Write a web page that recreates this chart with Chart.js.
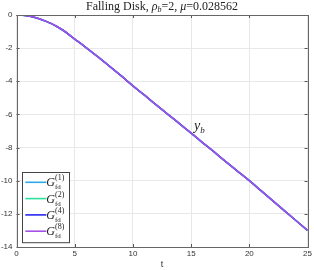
<!DOCTYPE html>
<html>
<head>
<meta charset="utf-8">
<script src="https://cdn.jsdelivr.net/npm/chart.js@4/dist/chart.umd.min.js"></script>
<style>
  body { margin: 0; background: #fff; }
  #wrap { width: 314px; height: 270px; }
</style>
</head>
<body>
<div id="wrap"><canvas id="diskChart" width="314" height="270"></canvas></div>
<script>
// time samples and vertical body position y_b
const tValues = [0, 0.5, 1, 1.5, 2, 2.5, 3, 3.5, 4, 5, 6, 7, 8, 9, 10, 11, 12, 13, 14, 15, 16, 17, 18, 19, 20, 21, 22, 23, 24, 25];
const ybValues = [0, -0.015, -0.06, -0.135, -0.24, -0.37, -0.52, -0.71, -0.92, -1.45, -1.98, -2.53, -3.1, -3.68, -4.27, -4.84, -5.42, -5.99, -6.56, -7.13, -7.71, -8.28, -8.86, -9.43, -10.0, -10.6, -11.2, -11.8, -12.4, -13.0];
const seriesOrders = ['1', '2', '4', '8'];
const seriesColors = ['#2ea8e6', '#2ee0a0', '#2626f2', '#a451e6'];
const xTicks = [0, 5, 10, 15, 20, 25];
const yTicks = [0, -2, -4, -6, -8, -10, -12, -14];

const serif = '"Liberation Serif", "DejaVu Serif", serif';

// later series are drawn on top (lower order = drawn last in Chart.js)
const datasets = seriesOrders.map((ord, i) => ({
    label: 'G_fd^(' + ord + ')',
    data: tValues.map((t, k) => ({ x: t, y: ybValues[k] })),
    borderColor: seriesColors[i],
    borderWidth: 1.6,
    pointRadius: 0,
    fill: false,
    order: seriesOrders.length - 1 - i,
    cubicInterpolationMode: 'monotone'
}));

// draws text pieces one after the other, returns total width
function drawPieces(ctx, pieces, x, y, measureOnly) {
    let cx = x;
    pieces.forEach(p => {
        ctx.font = p.font;
        if (!measureOnly) ctx.fillText(p.text, cx, y + (p.dy || 0));
        cx += ctx.measureText(p.text).width;
    });
    return cx - x;
}

const decorations = {
    id: 'decorations',
    afterDraw(chart) {
        const ctx = chart.ctx;
        const area = chart.chartArea;
        const xs = chart.scales.x, ys = chart.scales.y;
        ctx.save();

        // inward ticks on all four sides
        ctx.strokeStyle = '#555';
        ctx.lineWidth = 1;
        ctx.beginPath();
        xTicks.forEach(v => {
            const px = Math.round(xs.getPixelForValue(v)) + 0.5;
            ctx.moveTo(px, area.bottom); ctx.lineTo(px, area.bottom - 3);
            ctx.moveTo(px, area.top); ctx.lineTo(px, area.top + 3);
        });
        yTicks.forEach(v => {
            const py = Math.round(ys.getPixelForValue(v)) + 0.5;
            ctx.moveTo(area.left, py); ctx.lineTo(area.left + 3, py);
            ctx.moveTo(area.right, py); ctx.lineTo(area.right - 3, py);
        });
        ctx.stroke();

        // box around the axes
        ctx.strokeStyle = '#666';
        ctx.strokeRect(Math.round(area.left) + 0.5, Math.round(area.top) + 0.5,
            Math.round(area.right - area.left), Math.round(area.bottom - area.top));

        // title
        ctx.fillStyle = '#222';
        ctx.textBaseline = 'alphabetic';
        ctx.textAlign = 'left';
        const reg = '12px ' + serif, it = 'italic 12px ' + serif, sm = 'italic 8px ' + serif;
        const title = [
            { text: 'Falling Disk, ', font: reg },
            { text: 'ρ', font: it },
            { text: 'b', font: sm, dy: 2 },
            { text: '=2, ', font: reg },
            { text: 'μ', font: it },
            { text: '=0.028562', font: reg }
        ];
        const tw = drawPieces(ctx, title, 0, 0, true);
        drawPieces(ctx, title, (area.left + area.right) / 2 - tw / 2, 10, false);

        // y_b annotation
        const ax = xs.getPixelForValue(15.25), ay = ys.getPixelForValue(-6.95);
        drawPieces(ctx, [
            { text: 'y', font: 'italic 14px ' + serif },
            { text: 'b', font: 'italic 9px ' + serif, dy: 3 }
        ], ax, ay, false);

        // legend box
        const bx = xs.getPixelForValue(0.5), bw = 47;
        const rowH = 16.3, by = area.bottom - 4.5 - rowH * seriesOrders.length - 5;
        const bh = rowH * seriesOrders.length + 5;
        ctx.fillStyle = '#fff';
        ctx.fillRect(Math.round(bx) + 0.5, Math.round(by) + 0.5, bw, bh);
        ctx.strokeStyle = '#444';
        ctx.strokeRect(Math.round(bx) + 0.5, Math.round(by) + 0.5, bw, bh);
        chart.data.datasets.forEach((ds, i) => {
            const ry = by + 10 + i * rowH;
            ctx.strokeStyle = ds.borderColor;
            ctx.lineWidth = 1.6;
            ctx.beginPath();
            ctx.moveTo(bx + 3, ry); ctx.lineTo(bx + 24, ry);
            ctx.stroke();
            ctx.fillStyle = '#222';
            ctx.font = 'italic 12px ' + serif;
            ctx.fillText('G', bx + 24, ry + 4);
            const gx = bx + 24 + ctx.measureText('G').width;
            ctx.font = '8px ' + serif;
            ctx.fillText('(' + seriesOrders[i] + ')', gx, ry - 2);
            ctx.font = '7px ' + serif;
            ctx.fillText('fd', gx, ry + 7);
        });
        ctx.restore();
    }
};

const tickFont = { family: '"Liberation Sans", Arial, sans-serif', size: 8 };

new Chart(document.getElementById('diskChart').getContext('2d'), {
    type: 'line',
    data: { datasets: datasets },
    options: {
        responsive: false,
        animation: false,
        layout: { padding: { top: 15, right: 5, left: 0, bottom: 0 } },
        plugins: {
            legend: { display: false },
            tooltip: { enabled: false }
        },
        scales: {
            x: {
                type: 'linear',
                min: 0,
                max: 25,
                afterBuildTicks: s => { s.ticks = xTicks.map(v => ({ value: v })); },
                afterFit: s => { s.height = 23; },
                ticks: { color: '#333', font: tickFont, padding: 2, maxRotation: 0 },
                grid: { color: '#e8e8e8', drawTicks: false },
                border: { display: false },
                title: { display: true, text: 't', color: '#333', font: { family: tickFont.family, size: 9 }, padding: 0 }
            },
            y: {
                type: 'linear',
                min: -14,
                max: 0,
                afterBuildTicks: s => { s.ticks = yTicks.map(v => ({ value: v })); },
                afterFit: s => { s.width = 16.5; },
                ticks: { color: '#333', font: tickFont, padding: 4 },
                grid: { color: '#e8e8e8', drawTicks: false },
                border: { display: false }
            }
        }
    },
    plugins: [decorations]
});
</script>
</body>
</html>
